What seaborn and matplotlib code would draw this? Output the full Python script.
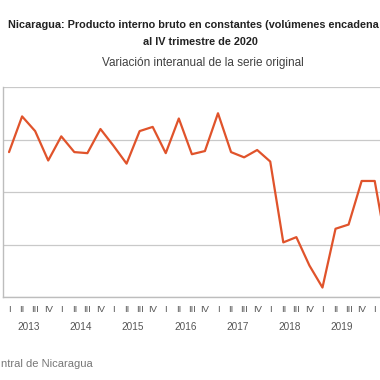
import matplotlib
matplotlib.use('Agg')
import matplotlib.pyplot as plt
import matplotlib.transforms as mtransforms
import pandas as pd
import seaborn as sns

# Data (year-on-year % change, quarterly)
years = ['2013', '2014', '2015', '2016', '2017', '2018', '2019', '2020']
quarters = ['I', 'II', 'III', 'IV']
growth = [3.8, 7.2, 5.8, 3.0,
          5.3, 3.8, 3.7, 6.0,
          4.4, 2.7, 5.8, 6.2,
          3.7, 7.0, 3.6, 3.9,
          7.5, 3.8, 3.3, 4.0,
          2.9, -4.8, -4.3, -7.0,
          -9.1, -3.5, -3.1, 1.05,
          1.05, -5.9]
y_ticks = [-10, -5, 0, 5, 10]

line_color = '#e0532b'
grid_color = '#c9c9c9'
text_color = '#404040'

sns.set_style('white')
plt.rcParams['font.family'] = ['Liberation Sans', 'DejaVu Sans']

df = pd.DataFrame({'pos': range(len(growth)), 'growth': growth})

W = 380.0
fig = plt.figure(figsize=(3.8, 3.8), dpi=100)
n_q = len(years) * 4
q_w = 13.06
ax = fig.add_axes([2.5 / W, 83 / W, n_q * q_w / W, 210 / W])

sns.lineplot(data=df, x='pos', y='growth', ax=ax, color=line_color,
             linewidth=1.6)

ax.set_xlim(-0.5, n_q - 0.5)
ax.set_ylim(y_ticks[0], y_ticks[-1])
ax.set_yticks(y_ticks)
ax.set_yticklabels([])
ax.yaxis.grid(True, color=grid_color, linewidth=0.9)
ax.set_axisbelow(True)
ax.tick_params(axis='y', length=3, color=grid_color, width=0.9)
ax.set_xlabel('')
ax.set_ylabel('')

for side in ['top', 'right']:
    ax.spines[side].set_visible(False)
ax.spines['left'].set_color('#bdbdbd')
ax.spines['bottom'].set_color('#bdbdbd')
ax.spines['left'].set_linewidth(1.0)
ax.spines['bottom'].set_linewidth(1.0)

# quarter labels (only the ones that fall inside the picture)
n_shown = 29
ax.set_xticks(range(n_shown))
ax.set_xticklabels((quarters * len(years))[:n_shown], fontsize=6.8,
                   color='#555555')
ax.tick_params(axis='x', which='major', length=0, pad=6)

# year separators as long minor ticks
ax.set_xticks([i * 4 - 0.5 for i in range(len(years) + 1)], minor=True)
ax.tick_params(axis='x', which='minor', length=25, color='#bdbdbd', width=1.0)

trans = mtransforms.blended_transform_factory(ax.transData, ax.transAxes)
for i, yr in enumerate(years[:-1]):
    ax.text(i * 4 + 1.5, -30 / 210, yr, transform=trans, ha='center',
            va='center', fontsize=7.2, color='#555555')

fig.text(8 / W, 1 - 25 / W,
         'Nicaragua: Producto interno bruto en constantes (volúmenes encadena',
         ha='left', va='center', fontsize=7.85, fontweight='bold',
         color='#222222')
fig.text(200 / W, 1 - 42 / W, 'al IV trimestre de 2020', ha='center',
         va='center', fontsize=7.85, fontweight='bold', color='#222222')
fig.text(203 / W, 1 - 63 / W, 'Variación interanual de la serie original',
         ha='center', va='center', fontsize=8.5, color=text_color)
fig.text(1 / W, 1 - 364 / W, 'ntral de Nicaragua',
         ha='left', va='center', fontsize=8, color='#777777')

fig.savefig('out.png', dpi=100)
